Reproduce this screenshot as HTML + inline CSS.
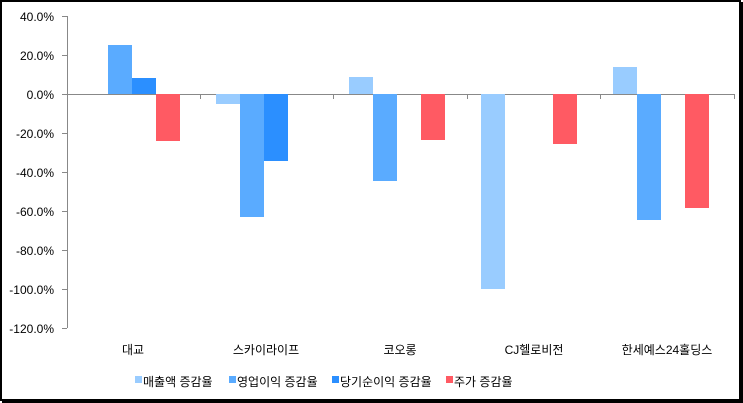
<!DOCTYPE html>
<html><head><meta charset="utf-8"><style>
html,body{margin:0;padding:0;background:#fff;width:743px;height:403px;overflow:hidden}
svg text{font-family:"Liberation Sans","Noto Sans CJK KR",sans-serif;font-size:12px;fill:#000}
</style></head><body>
<svg width="743" height="403" xmlns="http://www.w3.org/2000/svg">
<rect x="1" y="1" width="739" height="399" fill="#fff" stroke="#000" stroke-width="2"/>
<line x1="742" y1="2" x2="742" y2="403" stroke="#000" stroke-width="2"/>
<line x1="2" y1="402" x2="743" y2="402" stroke="#000" stroke-width="2"/>
<g stroke="#888" stroke-width="1">
<line x1="67.5" y1="16" x2="67.5" y2="328"/>
<line x1="62" y1="16.5" x2="67" y2="16.5"/><line x1="62" y1="55.5" x2="67" y2="55.5"/>
<line x1="62" y1="94.5" x2="67" y2="94.5"/><line x1="62" y1="133.5" x2="67" y2="133.5"/>
<line x1="62" y1="172.5" x2="67" y2="172.5"/><line x1="62" y1="211.5" x2="67" y2="211.5"/>
<line x1="62" y1="250.5" x2="67" y2="250.5"/><line x1="62" y1="289.5" x2="67" y2="289.5"/>
<line x1="62" y1="328.5" x2="67" y2="328.5"/>
<line x1="67" y1="94.5" x2="735" y2="94.5"/>
<line x1="200.5" y1="94" x2="200.5" y2="99"/><line x1="333.5" y1="94" x2="333.5" y2="99"/>
<line x1="467.5" y1="94" x2="467.5" y2="99"/><line x1="600.5" y1="94" x2="600.5" y2="99"/>
<line x1="734.5" y1="94" x2="734.5" y2="99"/>
</g>
<g text-anchor="end">
<text x="54" y="21">40.0%</text><text x="54" y="60">20.0%</text><text x="54" y="99">0.0%</text>
<text x="54" y="138">-20.0%</text><text x="54" y="177">-40.0%</text><text x="54" y="216">-60.0%</text>
<text x="54" y="255">-80.0%</text><text x="54" y="294">-100.0%</text><text x="54" y="333">-120.0%</text>
</g>
<!-- 대교 -->
<rect x="108" y="45" width="24" height="49" fill="#5aabff"/>
<rect x="132" y="78" width="24" height="16" fill="#2b8fff"/>
<rect x="156" y="94" width="24" height="47" fill="#ff5a63"/>
<!-- 스카이라이프 -->
<rect x="216" y="94" width="24" height="10" fill="#99ccff"/>
<rect x="240" y="94" width="24" height="123" fill="#5aabff"/>
<rect x="264" y="94" width="24" height="67" fill="#2b8fff"/>
<!-- 코오롱 -->
<rect x="349" y="77" width="24" height="17" fill="#99ccff"/>
<rect x="373" y="94" width="24" height="87" fill="#5aabff"/>
<rect x="421" y="94" width="24" height="46" fill="#ff5a63"/>
<!-- CJ -->
<rect x="481" y="94" width="24" height="195" fill="#99ccff"/>
<rect x="553" y="94" width="24" height="50" fill="#ff5a63"/>
<!-- 한세 -->
<rect x="613" y="67" width="24" height="27" fill="#99ccff"/>
<rect x="637" y="94" width="24" height="126" fill="#5aabff"/>
<rect x="685" y="94" width="24" height="114" fill="#ff5a63"/>
<g text-anchor="middle">
<text x="133" y="354">대교</text><text x="266" y="354">스카이라이프</text>
<text x="400" y="354">코오롱</text><text x="534" y="354">CJ헬로비전</text>
<text x="667" y="354">한세예스24홀딩스</text>
</g>
<rect x="135" y="376" width="7" height="7" fill="#99ccff"/><text x="143" y="386">매출액 증감율</text>
<rect x="229" y="376" width="7" height="7" fill="#5aabff"/><text x="237" y="386">영업이익 증감율</text>
<rect x="332" y="376" width="7" height="7" fill="#2b8fff"/><text x="340" y="386">당기순이익 증감율</text>
<rect x="446" y="376" width="7" height="7" fill="#ff5a63"/><text x="454" y="386">주가 증감율</text>
</svg>
</body></html>
